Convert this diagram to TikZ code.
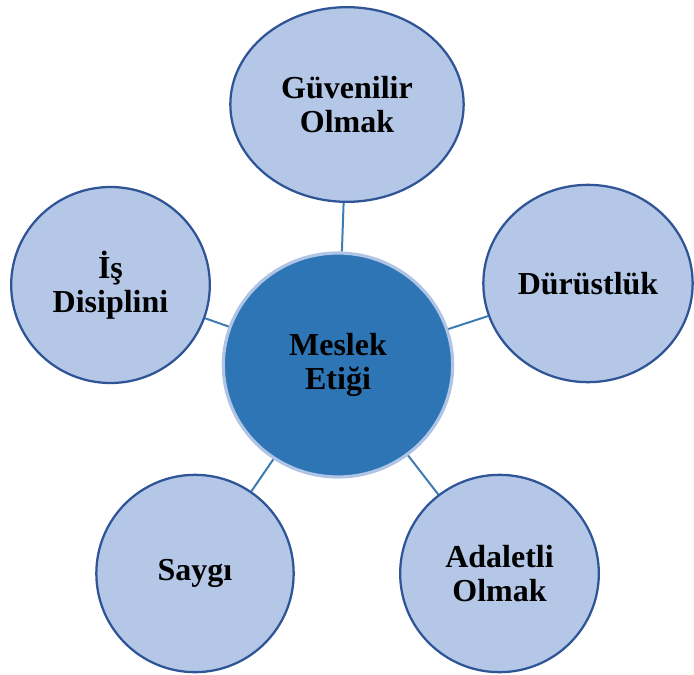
\documentclass[tikz,border=0pt]{standalone}
\usepackage{fontspec}
\setmainfont{Liberation Serif}
\usetikzlibrary{shapes.geometric}
\definecolor{leaffill}{HTML}{B4C7E7}
\definecolor{leafline}{HTML}{2F5597}
\definecolor{hubfill}{HTML}{2E75B6}
\definecolor{hubline}{HTML}{B0C4E6}
\definecolor{spoke}{HTML}{3F7CB0}
\begin{document}
\begin{tikzpicture}[x=0.75pt,y=-0.75pt,
  leaf/.style={ellipse, fill=leaffill, draw=leafline, line width=1.7pt, inner sep=0pt,
    align=center, font=\fontsize{24}{25.5}\selectfont\bfseries},
  hub/.style={ellipse, fill=hubfill, draw=hubline, line width=2.4pt, inner sep=0pt,
    align=center, font=\fontsize{24}{25.5}\selectfont\bfseries},
  spokeline/.style={draw=spoke, line width=1.5pt}]
\useasboundingbox (0,0) rectangle (694,675);
\node [hub, minimum width=172pt, minimum height=168pt] (etik) at (338,365) {Meslek\\Etiği};
\node [leaf, minimum width=175pt, minimum height=146pt] (guven) at (347,104.5) {Güvenilir\\Olmak};
\node [leaf, minimum width=157pt, minimum height=148pt] (durust) at (588,283.5) {Dürüstlük};
\node [leaf, minimum width=149pt, minimum height=147pt] (isdis) at (110.5,285) {İş\\Disiplini};
\node [leaf, minimum width=148pt, minimum height=148pt] (saygi) at (195,573.5) {Saygı};
\node [leaf, minimum width=149pt, minimum height=148pt] (adalet) at (499.5,573.5) {Adaletli\\Olmak};
\draw [spokeline] (etik) -- (guven);
\draw [spokeline] (etik) -- (durust);
\draw [spokeline] (etik) -- (isdis);
\draw [spokeline] (etik) -- (saygi);
\draw [spokeline] (etik) -- (adalet);
\end{tikzpicture}
\end{document}
